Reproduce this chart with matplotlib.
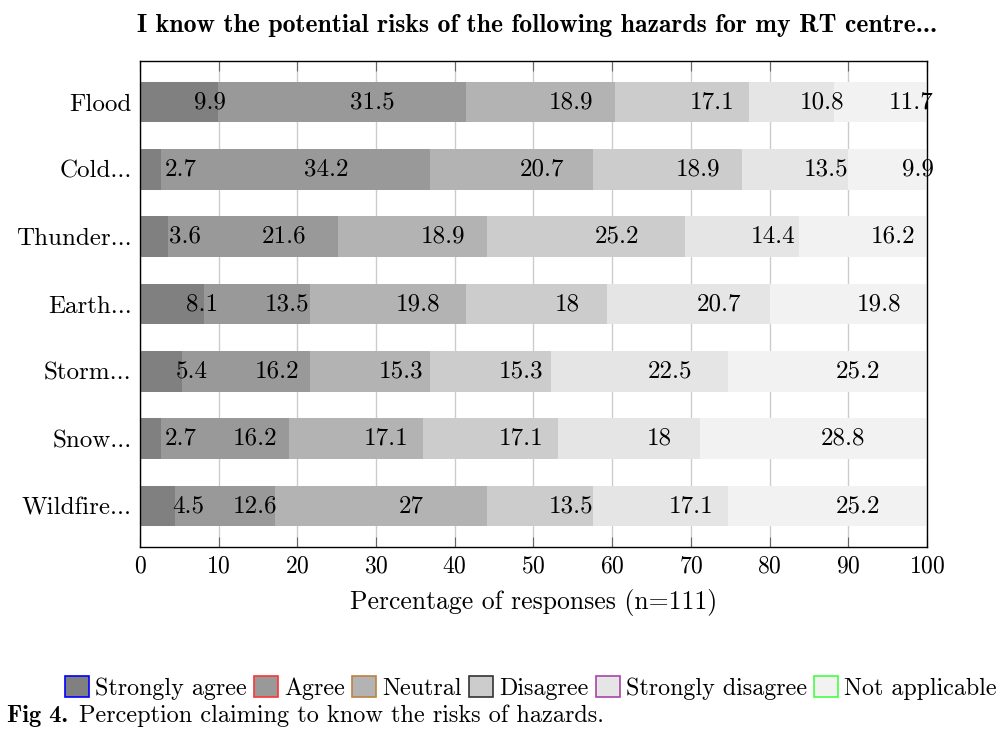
import numpy as np
import matplotlib.pyplot as plt
from matplotlib.patches import Patch

# tweak matplotlib settings
plt.rcParams['font.family'] = 'cmr10'
plt.rcParams['axes.formatter.use_mathtext'] = True
plt.rcParams['font.size'] = 17

# data (percentages of 111 responses), top row first
hazards = ['Flood', 'Cold...', 'Thunder...', 'Earth...', 'Storm...', 'Snow...', 'Wildfire...']
responses = ['Strongly agree', 'Agree', 'Neutral', 'Disagree', 'Strongly disagree', 'Not applicable']
strongly_agree = [9.9, 2.7, 3.6, 8.1, 5.4, 2.7, 4.5]
agree = [31.5, 34.2, 21.6, 13.5, 16.2, 16.2, 12.6]
neutral = [18.9, 20.7, 18.9, 19.8, 15.3, 17.1, 27]
disagree = [17.1, 18.9, 25.2, 18, 15.3, 17.1, 13.5]
strongly_disagree = [10.8, 13.5, 14.4, 20.7, 22.5, 18, 17.1]
not_applicable = [11.7, 9.9, 16.2, 19.8, 25.2, 28.8, 25.2]
series = [strongly_agree, agree, neutral, disagree, strongly_disagree, not_applicable]

fills = ['#808080', '#999999', '#b3b3b3', '#cccccc', '#e5e5e5', '#f2f2f2']
edges = ['#0000ff', '#ff3333', '#bf8040', '#333333', '#aa44aa', '#44ff44']

fig = plt.figure(figsize=(10.04, 7.38), dpi=100)
ax = fig.add_axes([140/1004, 1-547/738, 787/1004, 486/738])

ys = np.arange(len(hazards))
left = np.zeros(len(hazards))
for vals, col in zip(series, fills):
    vals = np.array(vals, dtype=float)
    ax.barh(ys, vals, left=left, height=0.6, color=col, zorder=2)
    # value labels, shifted right of the segment middle
    for y, l, v in zip(ys, left, vals):
        ax.annotate('{0:g}'.format(v), xy=(l + v/2, y), xytext=(22, 0),
                    textcoords='offset points', ha='center', va='center',
                    fontsize=18, zorder=3)
    left += vals

ax.set_xlim(0, 100)
ax.set_ylim(len(hazards) - 0.39, -0.61)
ax.set_yticks(ys)
ax.set_yticklabels(hazards, fontsize=18)
ax.set_xticks(np.arange(0, 101, 10))
ax.grid(axis='x', color='#cccccc', lw=1, zorder=0)
ax.tick_params(axis='x', direction='in', top=True, length=7, color='#666666', pad=6)
ax.tick_params(axis='y', length=0, pad=6)
for s in ax.spines.values():
    s.set_linewidth(1)
ax.set_xlabel('Percentage of responses (n=111)', fontsize=18.5, labelpad=8)

fig.text(0.535, 0.966, 'I know the potential risks of the following hazards for my RT centre...',
         ha='center', va='center', fontfamily='cmb10', fontsize=18.5)

handles = [Patch(facecolor=f, edgecolor=e, lw=1.2) for f, e in zip(fills, edges)]
fig.legend(handles, responses, loc='center', bbox_to_anchor=(531/1004, 1-688/738), ncol=6,
           frameon=False, fontsize=17.3, handlelength=1.0, handleheight=0.95,
           handletextpad=0.25, columnspacing=0.3, borderpad=0)

# caption: bold figure number then regular text
r = fig.canvas.get_renderer()
t = fig.text(7/1004, 1-716/738, 'Fig 4.', fontfamily='cmb10', fontsize=17.5, ha='left', va='center')
bb = t.get_window_extent(r)
fig.text((bb.x1 + 11)/1004, 1-716/738, 'Perception claiming to know the risks of hazards.',
         fontsize=17.5, ha='left', va='center')

plt.savefig('out.png', dpi=100)
